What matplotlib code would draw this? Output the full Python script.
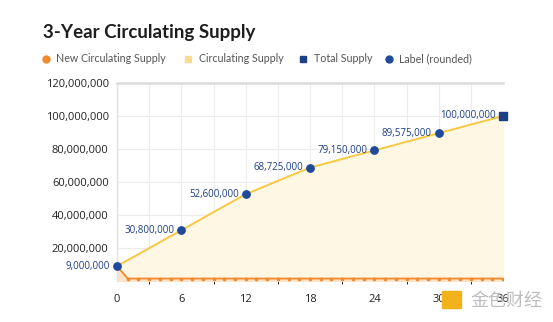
import matplotlib
matplotlib.use("Agg")
import matplotlib.pyplot as plt
from matplotlib.patches import Rectangle
from matplotlib.ticker import FuncFormatter, MultipleLocator

# month index and supply at each 6-month mark
label_months = [0, 6, 12, 18, 24, 30, 36]
circulating = [9_000_000, 30_800_000, 52_600_000, 68_725_000,
               79_150_000, 89_575_000, 100_000_000]
label_text = ["9,000,000", "30,800,000", "52,600,000", "68,725,000",
              "79,150,000", "89,575,000", "100,000,000"]
total_supply = 100_000_000

# monthly newly released tokens
new_months = list(range(0, 37))
new_supply = [9_000_000] + [1_500_000] * 36

x_ticks = [0, 6, 12, 18, 24, 30, 36]

ORANGE = "#f08a2c"
YELLOW = "#f7c843"
FILL = "#fdf7e4"
BLUE = "#1f4a9a"
NAVY = "#1d3f85"

plt.rcParams["font.family"] = ["Open Sans", "DejaVu Sans"]

fig = plt.figure(figsize=(5.53, 3.22), dpi=100)
ax = fig.add_axes([0.2116, 0.1273, 0.698, 0.615])

# circulating supply area + line
ax.fill_between(label_months, circulating, color=FILL, zorder=1)
ax.plot(label_months, circulating, color=YELLOW, lw=1.4, zorder=3)

# new circulating supply
ax.fill_between(new_months, new_supply, color="#fde3c8", zorder=1.5)
ax.plot(new_months, new_supply, color=ORANGE, lw=1.3, marker="o",
        markersize=1.6, zorder=4)

# labelled points
ax.scatter(label_months[:-1], circulating[:-1], s=28, color=BLUE, zorder=5,
           clip_on=False)
ax.scatter([label_months[-1]], [total_supply], s=30, marker="s", color=NAVY,
           zorder=5, clip_on=False)
for m, v, t in zip(label_months, circulating, label_text):
    ax.annotate(t, (m, v), xytext=(-5, 0), textcoords="offset points",
                ha="right", va="center", fontsize=7, color=NAVY, zorder=6,
                annotation_clip=False)

ax.set_xlim(0, 36)
ax.set_ylim(0, 120_000_000)
ax.set_xticks(x_ticks)
ax.xaxis.set_minor_locator(MultipleLocator(3))
ax.yaxis.set_major_locator(MultipleLocator(20_000_000))
ax.yaxis.set_major_formatter(FuncFormatter(
    lambda v, _: "" if v == 0 else f"{int(v):,}"))
ax.grid(True, which="both", color="#ececec", lw=0.8, zorder=0)
ax.set_axisbelow(True)
ax.tick_params(length=0, labelsize=8, colors="#222222", pad=6)
ax.tick_params(axis="x", pad=9)

for side in ["right", "bottom"]:
    ax.spines[side].set_visible(False)
ax.spines["top"].set_color("#dcdcdc")
ax.spines["top"].set_linewidth(1.8)
ax.spines["left"].set_color("#e3e3e3")
ax.spines["left"].set_linewidth(1.0)

fig.text(0.077, 0.90, "3-Year Circulating Supply", fontsize=13.5,
         fontweight="bold", color="#1e1e1e", family=["Lato", "DejaVu Sans"],
         va="center")

# legend row
legend_y = 0.818
items = [
    (0.083, "o", ORANGE, "New Circulating Supply"),
    (0.340, "s", "#f8dc92", "Circulating Supply"),
    (0.548, "s", NAVY, "Total Supply"),
    (0.703, "o", BLUE, "Label (rounded)"),
]
for x, mk, c, txt in items:
    fig.lines.append(plt.Line2D([x], [legend_y], marker=mk, color=c,
                                markersize=5 if mk == "o" else 4.5,
                                linestyle="none", transform=fig.transFigure))
    fig.text(x + 0.019, legend_y, txt, fontsize=7.7, color="#555555",
             va="center", family=["Lato", "DejaVu Sans"])

# site mark in the lower right corner
fig.patches.append(Rectangle((0.80, 0.045), 0.033, 0.05, color="#f2b21c",
                             transform=fig.transFigure))
fig.text(0.85, 0.065, "金色财经", fontsize=13, color="#bdbdbd", va="center",
         family=["Noto Sans CJK SC", "DejaVu Sans"])

fig.savefig("out.png", dpi=100, facecolor="white")
